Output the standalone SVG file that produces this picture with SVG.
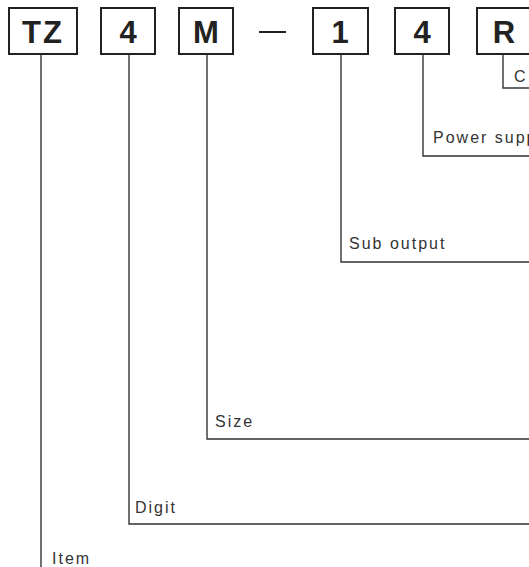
<svg xmlns="http://www.w3.org/2000/svg" width="529" height="567" viewBox="0 0 529 567">
<style>
.box{fill:#fff;stroke:#222;stroke-width:2}
.code{font-family:"Liberation Sans",Arial,sans-serif;font-weight:bold;font-size:31px;fill:#222;text-anchor:middle}
.lbl{font-family:"Liberation Sans",Arial,sans-serif;font-size:16px;fill:#333;letter-spacing:2px}
.ln{fill:none;stroke:#333;stroke-width:1.4}
</style>
<rect width="529" height="567" fill="#fff"/>
<g id="connectors">
<polyline class="ln" points="41,54 41,567"/>
<polyline class="ln" points="129,54 129,524 529,524"/>
<polyline class="ln" points="207,54 207,439 529,439"/>
<polyline class="ln" points="341,54 341,262 529,262"/>
<polyline class="ln" points="423,54 423,156 529,156"/>
<polyline class="ln" points="503,54 503,88 529,88"/>
</g>
<g id="node-TZ"><rect class="box" x="9" y="8" width="68" height="46"/><text class="code" x="43" y="43" letter-spacing="2">TZ</text></g>
<g id="node-4a"><rect class="box" x="101" y="8" width="54" height="46"/><text class="code" x="128" y="43">4</text></g>
<g id="node-M"><rect class="box" x="179" y="8" width="54" height="46"/><text class="code" x="206" y="43">M</text></g>
<g id="dash"><line x1="259" y1="32" x2="286" y2="32" stroke="#222" stroke-width="2"/></g>
<g id="node-1"><rect class="box" x="313" y="8" width="55" height="46"/><text class="code" x="340" y="43">1</text></g>
<g id="node-4b"><rect class="box" x="395" y="8" width="54" height="46"/><text class="code" x="422" y="43">4</text></g>
<g id="node-R"><rect class="box" x="477" y="8" width="54" height="46"/><text class="code" x="504" y="43">R</text></g>
<g id="labels">
<text class="lbl" x="514" y="82">C</text>
<text class="lbl" x="433" y="143">Power supp</text>
<text class="lbl" x="349" y="249">Sub output</text>
<text class="lbl" x="215" y="427">Size</text>
<text class="lbl" x="135" y="513">Digit</text>
<text class="lbl" x="52" y="564">Item</text>
</g>
</svg>
